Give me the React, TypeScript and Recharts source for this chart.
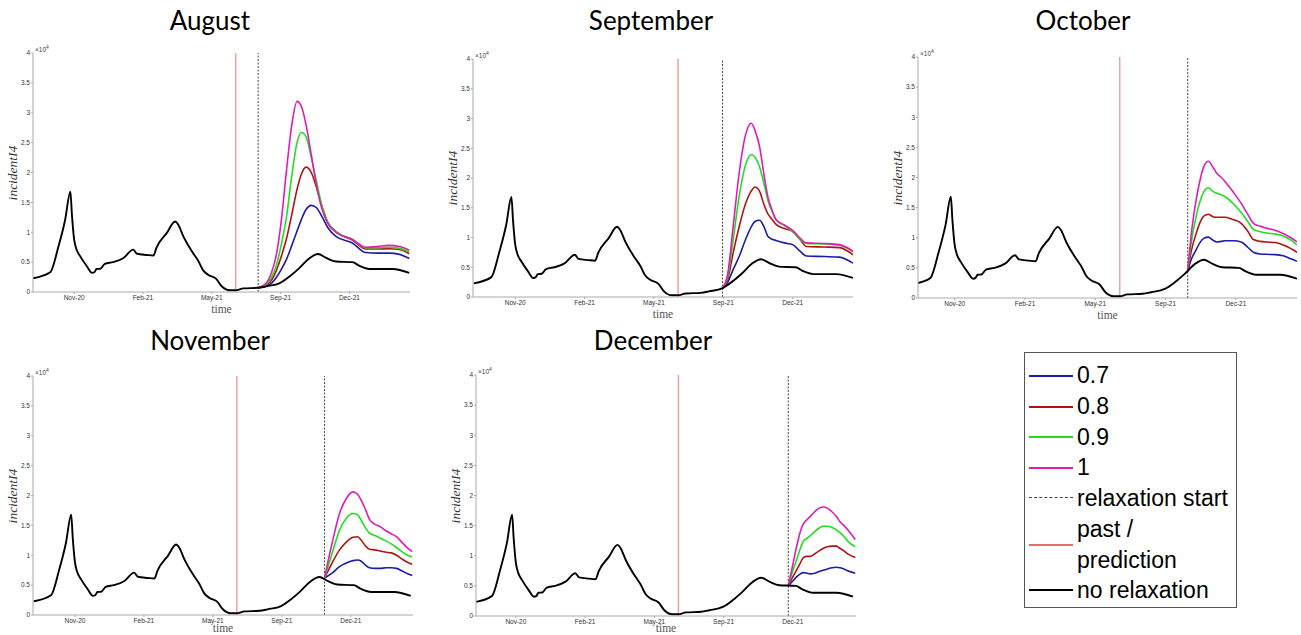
import { LineChart, Line, XAxis, YAxis, ReferenceLine } from "recharts";

// months of relaxation start, one panel each
const MONTHS = ["August", "September", "October", "November", "December"];
const RELAX_START = [246, 275, 305, 333, 362]; // days since 1 Nov 2020
const PAST_DAY = 216;

const TICK_DAYS = [0, 92, 184, 276, 368];
const TICK_LABELS = ["Nov-20", "Feb-21", "May-21", "Sep-21", "Dec-21"];
const Y_TICKS = [0, 0.5, 1, 1.5, 2, 2.5, 3, 3.5, 4]; // x 10^4

const SCENARIOS = ["0.7", "0.8", "0.9", "1"];

// no relaxation (history + baseline projection), x 10^4
const BASE_DAYS = [
  -55, -32, -21, -12, -5, -3, 0, 3, 8, 17, 24, 27, 30, 35, 41, 52, 66, 79, 84, 97,
  106, 110, 124, 135, 139, 146, 159, 166, 172, 179, 190, 197, 208, 216, 226, 246, 257, 275, 288, 301,
  315, 326, 337, 350, 372, 381, 395, 426, 448,
];
const BASE_VALUES = [
  0.23, 0.33, 0.76, 1.21, 1.68, 1.3, 0.88, 0.72, 0.6, 0.43, 0.32, 0.33, 0.385, 0.39, 0.47, 0.5, 0.57, 0.71, 0.64, 0.62,
  0.61, 0.74, 0.99, 1.18, 1.13, 0.93, 0.65, 0.52, 0.37, 0.29, 0.22, 0.1, 0.03, 0.03, 0.06, 0.07, 0.095, 0.15, 0.26, 0.4,
  0.57, 0.635, 0.57, 0.51, 0.5, 0.44, 0.385, 0.385, 0.32,
];

// August
const AUG_DAYS = [246, 257, 264, 270, 277, 284, 291, 298, 304, 310, 317, 324, 331, 339, 350, 372, 390, 405, 421, 435, 448];
const AUG_07 = [0.07, 0.1, 0.15, 0.24, 0.38, 0.55, 0.78, 1.02, 1.22, 1.38, 1.45, 1.41, 1.27, 1.08, 0.93, 0.82, 0.66, 0.65, 0.65, 0.63, 0.56];
const AUG_08 = [0.07, 0.12, 0.2, 0.35, 0.6, 0.9, 1.3, 1.72, 1.98, 2.09, 2.0, 1.75, 1.45, 1.17, 1.01, 0.87, 0.72, 0.72, 0.725, 0.71, 0.64];
const AUG_09 = [0.07, 0.13, 0.25, 0.43, 0.8, 1.27, 1.95, 2.5, 2.67, 2.6, 2.25, 1.85, 1.45, 1.17, 1.01, 0.88, 0.74, 0.74, 0.75, 0.73, 0.67];
const AUG_10 = [0.07, 0.15, 0.33, 0.6, 1.2, 2.05, 2.8, 3.19, 3.1, 2.8, 2.3, 1.78, 1.4, 1.15, 1.0, 0.88, 0.75, 0.76, 0.78, 0.76, 0.7];

// September
const SEP_DAYS = [275, 282, 289, 297, 305, 313, 318, 324, 330, 335, 341, 346, 357, 368, 377, 386, 410, 430, 448];
const SEP_07 = [0.15, 0.25, 0.46, 0.68, 0.95, 1.18, 1.27, 1.29, 1.18, 1.02, 0.97, 0.95, 0.91, 0.88, 0.78, 0.69, 0.68, 0.67, 0.57];
const SEP_08 = [0.15, 0.3, 0.74, 1.18, 1.55, 1.78, 1.85, 1.78, 1.55, 1.4, 1.3, 1.22, 1.15, 1.1, 0.98, 0.85, 0.84, 0.83, 0.71];
const SEP_09 = [0.15, 0.35, 0.96, 1.69, 2.2, 2.39, 2.35, 2.19, 1.9, 1.63, 1.42, 1.3, 1.2, 1.1, 0.98, 0.9, 0.89, 0.87, 0.76];
const SEP_10 = [0.15, 0.4, 1.18, 2.08, 2.7, 2.92, 2.8, 2.53, 2.05, 1.69, 1.45, 1.3, 1.21, 1.12, 1.0, 0.91, 0.9, 0.88, 0.77];

// October
const OCT_DAYS = [305, 310, 316, 321, 326, 332, 338, 343, 349, 354, 365, 375, 383, 391, 400, 408, 420, 430, 440, 448];
const OCT_07 = [0.45, 0.65, 0.8, 0.92, 0.99, 1.01, 0.96, 0.93, 0.94, 0.95, 0.95, 0.93, 0.85, 0.76, 0.73, 0.725, 0.72, 0.7, 0.65, 0.61];
const OCT_08 = [0.45, 0.8, 1.07, 1.25, 1.36, 1.39, 1.35, 1.34, 1.34, 1.34, 1.3, 1.24, 1.12, 0.97, 0.94, 0.93, 0.92, 0.88, 0.82, 0.76];
const OCT_09 = [0.45, 0.95, 1.35, 1.6, 1.76, 1.83, 1.77, 1.74, 1.71, 1.68, 1.56, 1.42, 1.28, 1.14, 1.1, 1.08, 1.06, 1.03, 0.96, 0.88];
const OCT_10 = [0.45, 1.1, 1.63, 1.95, 2.18, 2.27, 2.17, 2.07, 2.0, 1.93, 1.75, 1.57, 1.4, 1.24, 1.19, 1.16, 1.12, 1.07, 1.0, 0.93];

// November
const NOV_DAYS = [333, 343, 353, 362, 371, 377, 382, 388, 393, 400, 407, 415, 422, 429, 436, 444, 450];
const NOV_07 = [0.62, 0.7, 0.81, 0.87, 0.91, 0.92, 0.9, 0.83, 0.79, 0.78, 0.78, 0.79, 0.79, 0.78, 0.74, 0.69, 0.66];
const NOV_08 = [0.62, 0.87, 1.09, 1.22, 1.3, 1.31, 1.25, 1.15, 1.1, 1.09, 1.07, 1.05, 1.04, 1.0, 0.94, 0.88, 0.85];
const NOV_09 = [0.62, 1.03, 1.42, 1.62, 1.7, 1.68, 1.58, 1.45, 1.37, 1.33, 1.29, 1.24, 1.19, 1.13, 1.06, 1.0, 0.97];
const NOV_10 = [0.62, 1.2, 1.7, 1.95, 2.06, 2.02, 1.92, 1.75, 1.6, 1.52, 1.48, 1.41, 1.36, 1.31, 1.22, 1.12, 1.06];

// December
const DEC_DAYS = [362, 368, 373, 378, 382, 387, 391, 397, 403, 408, 414, 420, 426, 431, 436, 441, 451];
const DEC_07 = [0.5, 0.58, 0.65, 0.7, 0.72, 0.71, 0.7, 0.71, 0.74, 0.76, 0.78, 0.8, 0.81, 0.8, 0.78, 0.75, 0.71];
const DEC_08 = [0.5, 0.65, 0.76, 0.88, 0.97, 0.99, 0.99, 1.03, 1.08, 1.12, 1.15, 1.16, 1.16, 1.12, 1.08, 1.03, 0.97];
const DEC_09 = [0.5, 0.75, 0.93, 1.12, 1.24, 1.29, 1.33, 1.4, 1.46, 1.49, 1.49, 1.47, 1.43, 1.38, 1.32, 1.24, 1.15];
const DEC_10 = [0.5, 0.85, 1.15, 1.4, 1.53, 1.6, 1.65, 1.73, 1.79, 1.81, 1.79, 1.73, 1.65, 1.56, 1.5, 1.43, 1.27];

const PANEL_DAYS = [AUG_DAYS, SEP_DAYS, OCT_DAYS, NOV_DAYS, DEC_DAYS];
const PANEL_SERIES = [
  [AUG_07, AUG_08, AUG_09, AUG_10],
  [SEP_07, SEP_08, SEP_09, SEP_10],
  [OCT_07, OCT_08, OCT_09, OCT_10],
  [NOV_07, NOV_08, NOV_09, NOV_10],
  [DEC_07, DEC_08, DEC_09, DEC_10],
];

const COLORS = ["#1c1ca6", "#b31212", "#22dd22", "#e01cb4"];
const PAST_COLOR = "#f2a0a0";
const RELAX_COLOR = "#444";

// plot-area boxes on the page
const LAYOUT = [
  { x: 33, y: 53, w: 377, h: 239, domain: [-55, 449], tx: 210, ty: 20, lo: 5 },
  { x: 473, y: 59, w: 380, h: 238, domain: [-56, 448], tx: 651, ty: 20, lo: 5 },
  { x: 918, y: 57, w: 379, h: 241, domain: [-48, 448], tx: 1083, ty: 20, lo: 5 },
  { x: 33, y: 376, w: 380, h: 239, domain: [-56, 451], tx: 210, ty: 340, lo: 9 },
  { x: 476, y: 375, w: 380, h: 241, domain: [-53, 452], tx: 653, ty: 340, lo: 10 },
];

const toPoints = (days: number[], vals: number[]) => days.map((d, i) => ({ day: d, v: vals[i] }));
const basePoints = toPoints(BASE_DAYS, BASE_VALUES);

const YW = 34;
const MT = 6;
const MR = 6;
const XH = 26;
const tickStyle = { fontSize: 6.5, fill: "#333", fontFamily: "Liberation Sans, Arial, sans-serif" };

function Panel({ i }: { i: number }) {
  const p = LAYOUT[i];
  return (
    <>
      <div
        style={{
          position: "absolute", left: p.tx - 150, width: 300, top: p.ty - 14, textAlign: "center",
          fontFamily: "Lato, 'Open Sans', sans-serif", fontSize: 26, lineHeight: "28px", color: "#000",
        }}
      >
        {MONTHS[i]}
      </div>
      <div
        style={{
          position: "absolute", left: p.x + 2, top: p.y - 10, fontSize: 6.5, color: "#444",
          fontFamily: "Liberation Sans, Arial, sans-serif", lineHeight: "8px",
        }}
      >
        ×10<sup style={{ fontSize: 5 }}>4</sup>
      </div>
      <div
        style={{
          position: "absolute", left: p.x - 20 - 40, top: p.y + p.h / 2 - 8, width: 80, height: 16,
          textAlign: "center", transform: "rotate(-90deg)", fontFamily: "'Liberation Serif', 'DejaVu Serif', serif",
          fontStyle: "italic", fontSize: 13.5, lineHeight: "16px", color: "#333",
        }}
      >
        incidentI4
      </div>
      <div style={{ position: "absolute", left: p.x - YW, top: p.y - MT }}>
        <LineChart width={YW + p.w + MR} height={MT + p.h + XH} margin={{ top: MT, right: MR, left: 0, bottom: 0 }}>
          <XAxis
            type="number"
            dataKey="day"
            domain={p.domain}
            allowDataOverflow
            ticks={TICK_DAYS}
            tickFormatter={(d: number) => TICK_LABELS[TICK_DAYS.indexOf(d)]}
            height={XH}
            stroke="#aaa"
            tickSize={2}
            tickMargin={1}
            tick={tickStyle}
            label={{ value: "time", position: "insideBottom", offset: p.lo, fontSize: 11.5, fill: "#555", fontFamily: "'Liberation Serif', serif" }}
          />
          <YAxis
            type="number"
            domain={[0, 4]}
            ticks={Y_TICKS}
            width={YW}
            stroke="#aaa"
            tickSize={2}
            tickMargin={1}
            tick={tickStyle}
          />
          <ReferenceLine x={PAST_DAY} stroke={PAST_COLOR} strokeWidth={1.5} />
          <ReferenceLine x={RELAX_START[i]} stroke={RELAX_COLOR} strokeWidth={1} strokeDasharray="2 1.5" />
          {PANEL_SERIES[i].map((vals, k) => (
            <Line
              key={SCENARIOS[k]}
              data={toPoints(PANEL_DAYS[i], vals)}
              dataKey="v"
              type="monotone"
              stroke={COLORS[k]}
              strokeWidth={1.6}
              dot={false}
              isAnimationActive={false}
            />
          ))}
          <Line
            data={basePoints}
            dataKey="v"
            type="monotone"
            stroke="#000"
            strokeWidth={1.9}
            dot={false}
            isAnimationActive={false}
          />
        </LineChart>
      </div>
    </>
  );
}

const LEGEND_ROWS = [
  { label: ["0.7"], color: COLORS[0], dash: false, y: 375.5 },
  { label: ["0.8"], color: COLORS[1], dash: false, y: 406.5 },
  { label: ["0.9"], color: COLORS[2], dash: false, y: 437 },
  { label: ["1"], color: COLORS[3], dash: false, y: 467.5 },
  { label: ["relaxation start"], color: RELAX_COLOR, dash: true, y: 498 },
  { label: ["past /", "prediction"], color: "#e86a6a", dash: false, y: 545 },
  { label: ["no relaxation"], color: "#000", dash: false, y: 590 },
];

function LegendBox() {
  return (
    <>
      <div style={{ position: "absolute", left: 1024, top: 352, width: 211, height: 254, border: "1px solid #555" }} />
      {LEGEND_ROWS.map((r) => (
        <div key={r.label.join(" ")}>
          <div
            style={{
              position: "absolute", left: 1029, top: r.y - 1, width: 44, height: 0,
              borderTop: `${r.dash ? 1 : 2}px ${r.dash ? "dashed" : "solid"} ${r.color}`,
            }}
          />
          <div
            style={{
              position: "absolute", left: 1077, top: r.y - 15.3 * r.label.length, fontSize: 23,
              lineHeight: "30.6px", fontFamily: "'Liberation Sans', Arial, sans-serif", color: "#000", whiteSpace: "nowrap",
            }}
          >
            {r.label.map((t) => (
              <div key={t}>{t}</div>
            ))}
          </div>
        </div>
      ))}
    </>
  );
}

export default function App() {
  return (
    <div style={{ position: "absolute", left: 0, top: 0, width: 1301, height: 635, background: "#fff", overflow: "hidden" }}>
      {MONTHS.map((m, i) => (
        <Panel key={m} i={i} />
      ))}
      <LegendBox />
    </div>
  );
}
